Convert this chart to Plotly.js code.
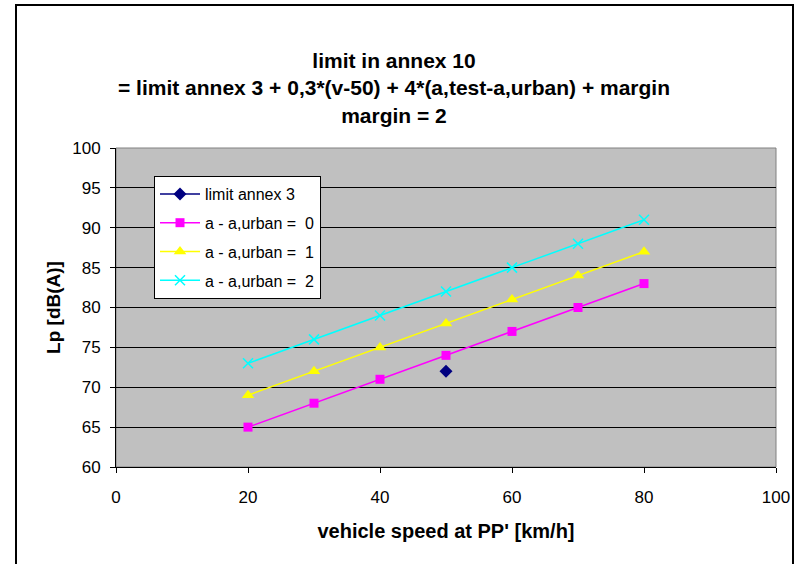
<!DOCTYPE html>
<html>
<head>
<meta charset="utf-8">
<script src="https://cdn.plot.ly/plotly-3.0.1.min.js"></script>
<style>html,body{margin:0;padding:0;background:#fff;} #chart{width:801px;height:564px;}</style>
</head>
<body>
<div id="chart"></div>
<script>
const speed = [20, 30, 40, 50, 60, 70, 80];
const limitSpeed = [50];
const limitAnnex3 = [72];
const diff0 = [65, 68, 71, 74, 77, 80, 83];
const diff1 = [69, 72, 75, 78, 81, 84, 87];
const diff2 = [73, 76, 79, 82, 85, 88, 91];
const seriesNames = ['limit annex 3', 'a - a,urban =  0', 'a - a,urban =  1', 'a - a,urban =  2'];
const titleLines = ['limit in annex 10', '= limit annex 3 + 0,3*(v-50) + 4*(a,test-a,urban) + margin', 'margin = 2'];

const F = 'Liberation Sans, Arial, sans-serif';
const traces = [
  {x: limitSpeed, y: limitAnnex3, name: seriesNames[0], legendgroup: 'g0', mode: 'lines+markers',
   line: {color: '#000080', width: 1.5}, marker: {symbol: 'diamond', size: 10, color: '#000080'}},
  {x: speed, y: diff0, name: seriesNames[1], legendgroup: 'g1', mode: 'lines+markers',
   line: {color: '#ff00ff', width: 1.5}, marker: {symbol: 'square', size: 9, color: '#ff00ff'}},
  {x: speed, y: diff1, name: seriesNames[2], legendgroup: 'g2', mode: 'lines+markers',
   line: {color: '#ffff00', width: 1.5}, marker: {symbol: 'triangle-up', size: 11, color: '#ffff00'}},
  {x: speed, y: diff2, name: seriesNames[3], legendgroup: 'g3', mode: 'lines+markers',
   line: {color: '#00ffff', width: 1.5}, marker: {symbol: 'x-thin', size: 10, color: '#00ffff', line: {color: '#00ffff', width: 1.5}}}
];

const layout = {
  width: 801, height: 564,
  margin: {l: 116, r: 25, t: 148, b: 97, pad: 0},
  paper_bgcolor: '#ffffff', plot_bgcolor: '#c0c0c0',
  font: {family: F, color: '#000'},
  showlegend: true,
  title: {text: '<b>' + titleLines.join('<br>') + '</b>', x: 394/801, xanchor: 'center',
          y: 1 - 68/564, yanchor: 'top', font: {family: F, size: 21, color: '#000'}},
  xaxis: {range: [0, 100], dtick: 20, tick0: 0, showgrid: false, zeroline: false,
          showline: true, linecolor: '#000', linewidth: 1,
          ticks: 'outside', ticklen: 5, tickcolor: '#000', tickfont: {size: 17, family: F},
          ticklabelstandoff: 10,
          title: {text: "<b>vehicle speed at PP' [km/h]</b>", font: {size: 20, family: F}, standoff: 17}},
  yaxis: {range: [60, 100], dtick: 5, tick0: 60, showgrid: true, gridcolor: '#000', gridwidth: 1,
          zeroline: false, showline: true, linecolor: '#000', linewidth: 1,
          ticks: 'outside', ticklen: 5, tickcolor: '#000', tickfont: {size: 17, family: F},
          ticklabelstandoff: 6,
          title: {text: '<b>Lp [dB(A)]</b>', font: {size: 19, family: F}, standoff: 6}},
  legend: {x: (154-116)/660, y: (467-176)/319, xanchor: 'left', yanchor: 'top',
           bgcolor: '#ffffff', bordercolor: '#000', borderwidth: 1,
           font: {size: 16, family: F}, traceorder: 'grouped', tracegroupgap: 5, itemwidth: 40},
  shapes: [
    {type: 'rect', xref: 'paper', yref: 'paper', x0: 0, x1: 1, y0: 0, y1: 1,
     line: {color: '#808080', width: 1}, layer: 'below'},
    {type: 'rect', xref: 'paper', yref: 'paper',
     x0: (16-116)/660, x1: (793-116)/660, y0: (467-600)/319, y1: (467-5)/319,
     line: {color: '#000', width: 2}}
  ]
};

Plotly.newPlot('chart', traces, layout, {displayModeBar: false, staticPlot: true});
</script>
</body>
</html>
